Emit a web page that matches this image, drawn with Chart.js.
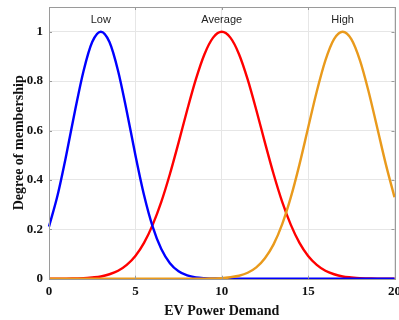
<!DOCTYPE html>
<html>
<head>
<meta charset="utf-8">
<script src="https://cdn.jsdelivr.net/npm/chart.js@4.4.1/dist/chart.umd.min.js"></script>
<style>
html,body{margin:0;padding:0;background:#fff;}
#wrap{width:399px;height:320px;position:relative;}
</style>
</head>
<body>
<div id="wrap"><canvas id="c" width="399" height="320"></canvas></div>
<script>
const xValues = [0,0.5,1,1.5,2,2.5,3,3.5,4,4.5,5,5.5,6,6.5,7,7.5,8,8.5,9,9.5,10,10.5,11,11.5,12,12.5,13,13.5,14,14.5,15,15.5,16,16.5,17,17.5,18,18.5,19,19.5,20];
const lowValues = [0.211,0.339,0.501,0.678,0.841,0.958,1,0.958,0.841,0.678,0.501,0.339,0.211,0.120,0.063,0.030,0.013,0.005,0.002,0.001,0,0,0,0,0,0,0,0,0,0,0,0,0,0,0,0,0,0,0,0,0];
const averageValues = [0,0,0,0.001,0.002,0.005,0.009,0.018,0.032,0.056,0.092,0.145,0.218,0.311,0.424,0.551,0.683,0.807,0.909,0.976,1,0.976,0.909,0.807,0.683,0.551,0.424,0.311,0.218,0.145,0.092,0.056,0.032,0.018,0.009,0.005,0.002,0.001,0,0,0];
const highValues = [0,0,0,0,0,0,0,0,0,0,0,0,0,0,0,0,0,0,0,0.001,0.002,0.006,0.012,0.024,0.046,0.083,0.139,0.221,0.330,0.463,0.611,0.758,0.884,0.970,1,0.970,0.884,0.758,0.611,0.463,0.330];
const seriesNames = ['Low','Average','High'];
const seriesCenters = [3,10,17];
const xTicks = [0,5,10,15,20];
const yTicks = [0,0.2,0.4,0.6,0.8,1];
const xTitle = 'EV Power Demand';
const yTitle = 'Degree of membership';

const colors = ['#0000FF','#FF0000','#E99A1C'];
const seriesData = [lowValues, averageValues, highValues];

function pts(vals){ return xValues.map((x,i)=>({x:x,y:vals[i]})); }

const frame = {
  id:'frame',
  afterDatasetsDraw(chart){
    const {ctx, chartArea:a, scales} = chart;
    ctx.save();
    ctx.strokeStyle = '#9a9a9a';
    ctx.lineWidth = 1;
    const tl = 3;
    xTicks.forEach(v=>{
      const px = Math.round(scales.x.getPixelForValue(v))+0.5;
      ctx.beginPath();
      ctx.moveTo(px,a.bottom); ctx.lineTo(px,a.bottom-tl);
      ctx.moveTo(px,a.top); ctx.lineTo(px,a.top+tl);
      ctx.stroke();
    });
    yTicks.forEach(v=>{
      const py = Math.round(scales.y.getPixelForValue(v))+0.5;
      ctx.beginPath();
      ctx.moveTo(a.left,py); ctx.lineTo(a.left+tl,py);
      ctx.moveTo(a.right,py); ctx.lineTo(a.right-tl,py);
      ctx.stroke();
    });
    ctx.strokeRect(Math.round(a.left)+0.5, Math.round(a.top)+0.5, Math.round(a.right-a.left), Math.round(a.bottom-a.top));
    ctx.fillStyle = '#222';
    ctx.font = '11px "Liberation Sans", Arial, sans-serif';
    ctx.textAlign = 'center';
    ctx.textBaseline = 'middle';
    seriesNames.forEach((n,i)=>{
      ctx.fillText(n, scales.x.getPixelForValue(seriesCenters[i]), scales.y.getPixelForValue(1.047));
    });
    ctx.restore();
  }
};

new Chart(document.getElementById('c'), {
  type:'line',
  data:{
    datasets: seriesNames.map((n,i)=>({
      label:n,
      data:pts(seriesData[i]),
      borderColor:colors[i],
      backgroundColor:colors[i],
      borderWidth:2.4,
      pointRadius:0,
      cubicInterpolationMode:'monotone',
      fill:false,
      clip:false,
      order: i===2 ? 0 : (i===0 ? 1 : 2)
    }))
  },
  options:{
    responsive:false,
    animation:false,
    devicePixelRatio:1,
    layout:{padding:{top:7,right:4.5,left:0,bottom:0}},
    plugins:{legend:{display:false},tooltip:{enabled:false}},
    scales:{
      x:{
        type:'linear',
        min:0,max:20,
        afterBuildTicks(s){ s.ticks = xTicks.map(v=>({value:v})); },
        afterFit(s){ s.height = 41.3; s.paddingLeft = 0; s.paddingRight = 0; },
        ticks:{
          padding:5,
          color:'#111',
          maxRotation:0,
          autoSkip:false,
          font:{family:'"Liberation Serif", "Times New Roman", serif', size:13, weight:'bold'}
        },
        grid:{color:'#e6e6e6', lineWidth:1, drawTicks:false},
        border:{display:false},
        title:{
          display:true,
          text:xTitle,
          color:'#111',
          padding:{top:0,bottom:0},
          font:{family:'"Liberation Serif", "Times New Roman", serif', size:14, weight:'bold'}
        }
      },
      y:{
        type:'linear',
        min:0,max:1.1,
        afterBuildTicks(s){ s.ticks = yTicks.map(v=>({value:v})); },
        afterFit(s){ s.width = 49; s.paddingTop = 0; s.paddingBottom = 0; },
        ticks:{
          padding:6,
          color:'#111',
          font:{family:'"Liberation Serif", "Times New Roman", serif', size:13, weight:'bold'},
          callback:(v)=>String(Math.round(v*10)/10)
        },
        grid:{color:'#e6e6e6', lineWidth:1, drawTicks:false},
        border:{display:false},
        title:{
          display:true,
          text:yTitle,
          color:'#111',
          padding:{top:11,bottom:0},
          font:{family:'"Liberation Serif", "Times New Roman", serif', size:14, weight:'bold'}
        }
      }
    }
  },
  plugins:[frame]
});
</script>
</body>
</html>
